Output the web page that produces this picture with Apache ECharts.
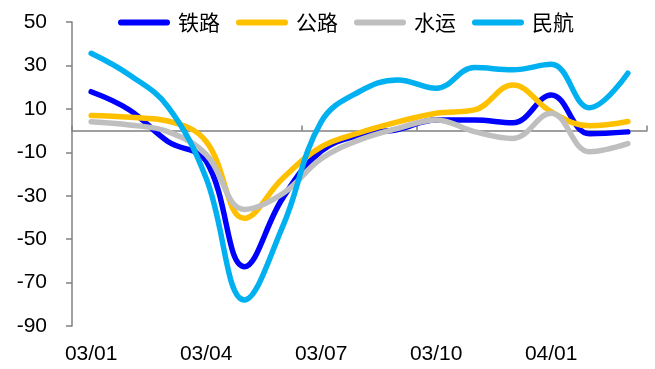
<!DOCTYPE html>
<html>
<head>
<meta charset="utf-8">
<script src="https://cdn.jsdelivr.net/npm/echarts@6/dist/echarts.min.js"></script>
<style>
  html, body { margin: 0; padding: 0; background: #fff; }
  #chart { width: 655px; height: 369px; }
</style>
</head>
<body>
<div id="chart"></div>
<script>
// Monthly year-on-year growth of freight volume by transport mode (%)
const months = ['03/01','03/02','03/03','03/04','03/05','03/06','03/07','03/08',
                '03/09','03/10','03/11','03/12','04/01','04/02','04/03'];
const railway = [17.9, 9.5, -5, -14, -62.7, -31, -9.5, -2, 0.5, 4.9, 4.9, 3.6, 16.4, -1.5, -0.6];
const highway = [6.9, 6.1, 4.4, -5, -40.4, -22, -7.5, -1, 4, 8, 9.5, 21, 8.7, 2.2, 4.2];
const waterway = [4.1, 2.6, -0.5, -11, -36.3, -29, -13, -4.3, 1, 4.9, -0.5, -3.6, 8, -9.7, -6];
const aviation = [35.6, 25.6, 11, -22, -78, -44, 4, 18, 23.3, 19.5, 29, 28, 30.5, 10.5, 26.4];
const yTicks = [-90, -70, -50, -30, -10, 10, 30, 50];

const names = ['铁路', '公路', '水运', '民航'];
const colors = ['#0000FF', '#FFC000', '#BFBFBF', '#00B0F0'];
const values = [railway, highway, waterway, aviation];

const chart = echarts.init(document.getElementById('chart'));
const axisGray = '#808080';
const pill = 'path://M3,0 H49 A3,3 0 0 1 49,6 H3 A3,3 0 0 1 3,0 Z';

chart.setOption({
  animation: false,
  color: colors,
  legend: {
    top: 7,
    left: 113,
    itemWidth: 52,
    itemHeight: 7,
    itemGap: 16,
    icon: pill,
    textStyle: { fontFamily: 'Noto Sans CJK SC', fontSize: 21, color: '#000', padding: [0, 0, 0, 3] },
    data: names
  },
  grid: { left: 72, right: 8, top: 22, bottom: 43 },
  xAxis: [
    {
      type: 'category',
      data: months,
      boundaryGap: true,
      position: 'bottom',
      axisLine: { show: false, onZero: false },
      axisTick: { show: false },
      axisLabel: {
        interval: 2,
        margin: 18,
        fontFamily: 'Liberation Sans, Arial, sans-serif',
        fontSize: 21,
        color: '#000'
      },
      splitLine: { show: false }
    },
    {
      type: 'category',
      data: months,
      boundaryGap: true,
      position: 'top',
      axisLine: { show: true, onZero: true, lineStyle: { color: axisGray, width: 1.5 } },
      axisTick: { show: true, interval: 2, inside: false, length: 5, lineStyle: { color: axisGray, width: 1.5 } },
      axisLabel: { show: false },
      splitLine: { show: false }
    }
  ],
  yAxis: {
    type: 'value',
    min: -90,
    max: 50,
    axisLine: { show: true, lineStyle: { color: axisGray, width: 1.5 } },
    axisTick: { show: true, inside: false, length: 6, customValues: yTicks, lineStyle: { color: axisGray, width: 1.5 } },
    axisLabel: {
      customValues: yTicks,
      margin: 25,
      fontFamily: 'Liberation Sans, Arial, sans-serif',
      fontSize: 21,
      color: '#000'
    },
    splitLine: { show: false }
  },
  series: names.map((n, i) => ({
    name: n,
    type: 'line',
    xAxisIndex: 0,
    data: values[i],
    smooth: 0.4,
    symbol: 'none',
    lineStyle: { width: 5.5, color: colors[i], cap: 'round', join: 'round' },
    z: 2 + i
  }))
});
</script>
</body>
</html>
